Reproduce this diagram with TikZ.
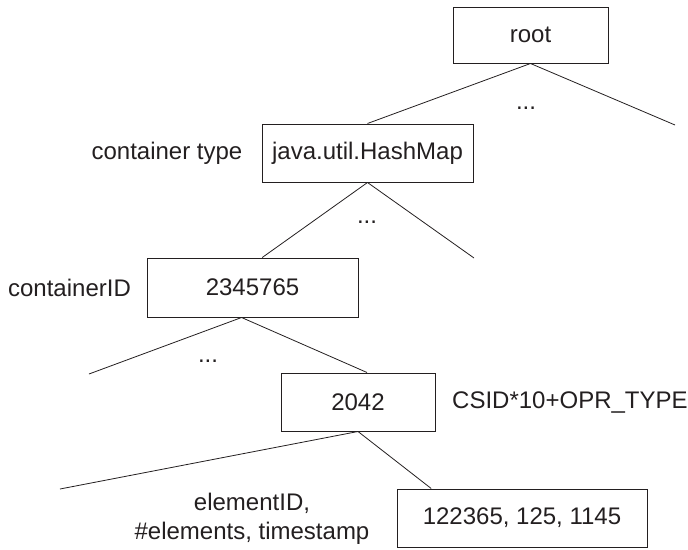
\documentclass[tikz,border=0pt]{standalone}
\usepackage{fontspec}
\setmainfont{Liberation Sans}
\definecolor{ink}{HTML}{231F20}
\begin{document}
\begin{tikzpicture}[x=1pt,y=-1pt,
  every node/.style={font=\fontsize{24}{29}\selectfont, text=ink, inner sep=0pt},
  box/.style={draw=ink, line width=1pt, rectangle},
  edge/.style={draw=ink, line width=0.8pt},
  lbl/.style={align=center}]
\useasboundingbox (0,0) rectangle (688,549);
% boxes
\node[box, minimum width=155pt, minimum height=56pt] (root) at (530.5,35) {root};
\node[box, minimum width=211pt, minimum height=58pt] (hash) at (367.5,153) {java.util.HashMap};
\node[box, minimum width=211pt, minimum height=59pt] (cid) at (252.5,287.5) {2345765};
\node[box, minimum width=154pt, minimum height=58pt] (n2042) at (358,402) {2042};
\node[box, minimum width=250pt, minimum height=58pt] (elem) at (522,518) {122365, 125, 1145};
% labels
\node[lbl] (lct) at (167,153) {container type};
\node[lbl] (lcid) at (69.5,288) {containerID};
\node[lbl, anchor=west] (lcs) at (452,403) {CSID*10+OPR\_TYPE};
\node[lbl] (lel) at (252,519) {elementID,\\\#elements, timestamp};
\node (d1) at (526,108) {...};
\node (d2) at (367,222) {...};
\node (d3) at (208,361) {...};
% free ends
\coordinate (e1) at (675,125);
\coordinate (e2) at (474,258);
\coordinate (e3) at (89,374);
\coordinate (e4) at (60,489);
% connectors
\draw[edge] (root.south) -- (hash.north);
\draw[edge] (root.south) -- (e1);
\draw[edge] (hash.south) -- (cid.72);
\draw[edge] (hash.south) -- (e2);
\draw[edge] (cid.250) -- (e3);
\draw[edge] (cid.250) -- (n2042.73);
\draw[edge] (n2042.south) -- (e4);
\draw[edge] (n2042.south) -- (elem.162);
\end{tikzpicture}
\end{document}
